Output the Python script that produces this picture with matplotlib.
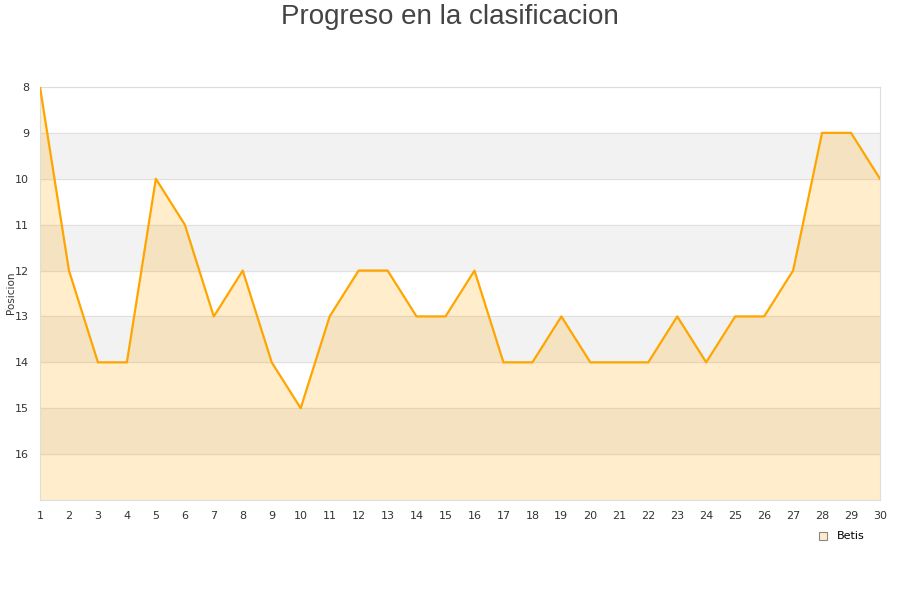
import matplotlib
import numpy as np
import matplotlib.pyplot as plt

matplotlib.use('Agg')

# datos
jornadas = list(range(1, 31))
posiciones = [8, 12, 14, 14, 10, 11, 13, 12, 14, 15, 13, 12, 12, 13, 13, 12,
              14, 14, 13, 14, 14, 14, 13, 14, 13, 13, 12, 9, 9, 10]
y_ticks = [8, 9, 10, 11, 12, 13, 14, 15, 16]
equipo = 'Betis'

fig = plt.figure(figsize=(9, 6), dpi=100)
ax = fig.add_axes([40 / 900, 1 - 500 / 600, 840 / 900, 413 / 600])

# bandas alternas
for y0 in [9, 11, 13, 15]:
    ax.axhspan(y0, y0 + 1, color='#f2f2f2', zorder=0)
for y in y_ticks:
    ax.axhline(y, color='#e0e0e0', lw=0.8, zorder=1)

ax.fill_between(jornadas, posiciones, 17, color='#ffa500', alpha=0.2, lw=0, zorder=2)
ax.plot(jornadas, posiciones, color='#ffa500', lw=1.6, zorder=3)

ax.set_xlim(1, 30)
ax.set_ylim(17, 8)
ax.set_xticks(jornadas)
ax.set_yticks(y_ticks)
ax.tick_params(length=0, labelsize=8, labelcolor='#333333', pad=8)
for s in ax.spines.values():
    s.set_color('#dddddd')

fig.text(11 / 900, 1 - 293 / 600, 'Posicion', rotation=90, ha='center', va='center',
         fontsize=7.5, color='#333333')

fig.text(0.5, 1 - 17 / 600, 'Progreso en la clasificacion', ha='center', va='center',
         fontsize=20, color='#444444', family=['Liberation Sans', 'DejaVu Sans'])

# leyenda
fig.patches.append(plt.Rectangle((819 / 900, 1 - 540 / 600), 8 / 900, 8 / 600,
                                 transform=fig.transFigure, facecolor='#ffebc8',
                                 edgecolor='#888888', lw=0.8))
fig.text(837 / 900, 1 - 536 / 600, equipo, ha='left', va='center', fontsize=8, color='#000000')

plt.savefig('out.png', dpi=100)
